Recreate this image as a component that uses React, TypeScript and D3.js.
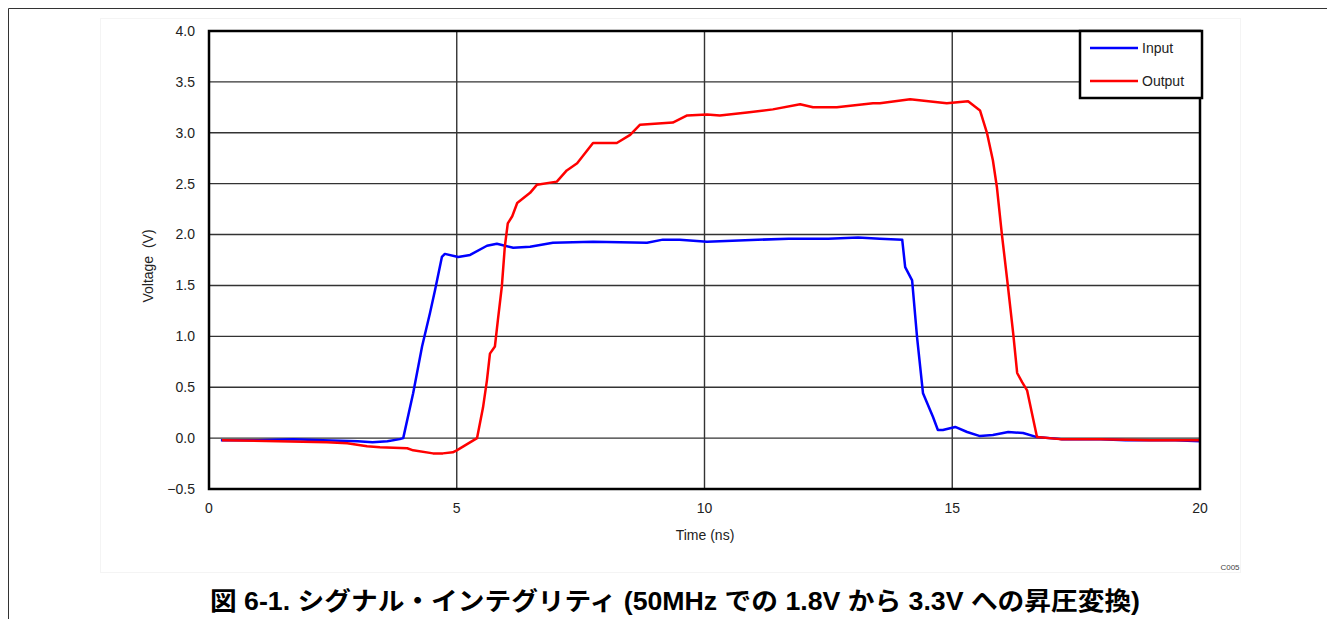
import React from "react";
import * as d3 from "d3";

const xTicks = [0, 5, 10, 15, 20];
const yTicks = [-0.5, 0, 0.5, 1, 1.5, 2, 2.5, 3, 3.5, 4];

const inputT = [0.24, 1.0, 1.7, 2.3, 3.0, 3.3, 3.6, 3.85, 3.92, 4.12, 4.3, 4.46, 4.56, 4.7, 4.76, 5.03, 5.27, 5.61, 5.81, 6.14, 6.48, 6.94, 7.75, 8.84, 9.16, 9.5, 10.05, 11.7, 12.5, 13.1, 13.54, 13.99, 14.05, 14.19, 14.29, 14.41, 14.61, 14.71, 14.81, 15.06, 15.3, 15.56, 15.82, 16.13, 16.43, 16.71, 17.2, 18.0, 18.5, 19.5, 20.0];
const inputV = [-0.02, -0.02, -0.01, -0.02, -0.03, -0.04, -0.03, -0.01, 0.0, 0.44, 0.9, 1.23, 1.45, 1.78, 1.81, 1.78, 1.8, 1.89, 1.91, 1.87, 1.88, 1.92, 1.93, 1.92, 1.95, 1.95, 1.93, 1.96, 1.96, 1.97, 1.96, 1.95, 1.68, 1.55, 0.99, 0.44, 0.21, 0.08, 0.08, 0.11, 0.06, 0.02, 0.03, 0.06, 0.05, 0.01, -0.01, -0.01, -0.02, -0.02, -0.03];

const outputT = [0.26, 2.38, 2.79, 3.19, 3.45, 4.0, 4.12, 4.52, 4.72, 4.92, 5.0, 5.41, 5.53, 5.61, 5.67, 5.77, 5.83, 5.91, 5.97, 6.03, 6.12, 6.22, 6.48, 6.62, 7.02, 7.22, 7.43, 7.75, 8.23, 8.5, 8.7, 9.36, 9.65, 10.05, 10.31, 10.86, 11.38, 11.93, 12.19, 12.67, 13.4, 13.54, 14.15, 14.89, 15.32, 15.56, 15.7, 15.82, 15.9, 16.0, 16.11, 16.23, 16.31, 16.41, 16.51, 16.71, 17.17, 18.0, 19.0, 20.0];
const outputV = [-0.02, -0.04, -0.05, -0.08, -0.09, -0.1, -0.12, -0.15, -0.15, -0.14, -0.12, 0.0, 0.3, 0.57, 0.83, 0.9, 1.16, 1.49, 1.88, 2.11, 2.18, 2.31, 2.41, 2.49, 2.52, 2.63, 2.7, 2.9, 2.9, 2.98, 3.08, 3.1, 3.17, 3.18, 3.17, 3.2, 3.23, 3.28, 3.25, 3.25, 3.29, 3.29, 3.33, 3.29, 3.31, 3.22, 3.0, 2.73, 2.47, 2.01, 1.55, 1.03, 0.64, 0.55, 0.47, 0.01, -0.01, -0.01, -0.02, -0.02];

const seriesNames = ["Input", "Output"];
const seriesColors = ["#0000ff", "#ff0000"];

const W = 1327;
const H = 619;
const L = 209, R = 1200, T = 31, B = 489;

export default function App() {
  const x = d3.scaleLinear().domain([0, 20]).range([L, R]);
  const y = d3.scaleLinear().domain([-0.5, 4]).range([B, T]);
  const line = d3
    .line<[number, number]>()
    .x((d) => x(d[0]))
    .y((d) => y(d[1]));
  const inputPts = inputT.map((t, i) => [t, inputV[i]] as [number, number]);
  const outputPts = outputT.map((t, i) => [t, outputV[i]] as [number, number]);
  const font = "'Liberation Sans', Arial, sans-serif";
  const fmt = (v: number) => (v < 0 ? "\u2212" + Math.abs(v).toFixed(1) : v.toFixed(1));

  return (
    <svg
      width={W}
      height={H}
      style={{ position: "absolute", left: 0, top: 0, background: "#fff" }}
      fontFamily={font}
    >
      {/* page frame */}
      <line x1={8.5} y1={8.5} x2={W} y2={8.5} stroke="#333" strokeWidth={1} />
      <line x1={8.5} y1={8.5} x2={8.5} y2={H} stroke="#333" strokeWidth={1} />
      <rect x={100.5} y={18.5} width={1140} height={554} fill="none" stroke="#f4f4f4" strokeWidth={1} />

      {/* grid */}
      {yTicks.map((v) => (
        <line key={"gy" + v} x1={L} x2={R} y1={y(v)} y2={y(v)} stroke="#333" strokeWidth={1.4} />
      ))}
      {xTicks.map((v) => (
        <line key={"gx" + v} x1={x(v)} x2={x(v)} y1={T} y2={B} stroke="#333" strokeWidth={1.4} />
      ))}

      {/* series */}
      <path d={line(inputPts) || ""} fill="none" stroke={seriesColors[0]} strokeWidth={2.5} strokeLinejoin="round" />
      <path d={line(outputPts) || ""} fill="none" stroke={seriesColors[1]} strokeWidth={2.5} strokeLinejoin="round" />

      {/* plot frame */}
      <rect x={L} y={T} width={R - L} height={B - T} fill="none" stroke="#000" strokeWidth={2.5} />

      {/* y tick labels */}
      {yTicks.map((v) => (
        <text key={"ly" + v} x={195} y={y(v)} dy="0.35em" textAnchor="end" fontSize={14} fill="#222">
          {fmt(v)}
        </text>
      ))}
      {/* x tick labels */}
      {xTicks.map((v) => (
        <text key={"lx" + v} x={x(v)} y={508} dy="0.35em" textAnchor="middle" fontSize={14} fill="#222">
          {v}
        </text>
      ))}

      <text x={705} y={535} dy="0.35em" textAnchor="middle" fontSize={14} fill="#222">
        Time (ns)
      </text>
      <text
        transform={`translate(148,${(T + B) / 2 + 6}) rotate(-90)`}
        dy="0.35em"
        textAnchor="middle"
        fontSize={14}
        fill="#222"
        style={{ whiteSpace: "pre" }}
      >
        {"Voltage  (V)"}
      </text>

      {/* legend */}
      <rect x={1080} y={31} width={122} height={67} fill="#fff" stroke="#000" strokeWidth={2.5} />
      {seriesNames.map((n, i) => (
        <g key={n}>
          <line x1={1090} x2={1138} y1={48 + i * 33} y2={48 + i * 33} stroke={seriesColors[i]} strokeWidth={2.5} />
          <text x={1142} y={48 + i * 33} dy="0.35em" fontSize={14} fill="#222">
            {n}
          </text>
        </g>
      ))}

      <text x={1230} y={567} dy="0.35em" textAnchor="middle" fontSize={8} fill="#444">
        C005
      </text>

      {/* caption */}
      <text
        x={210}
        y={601}
        dy="0.35em"
        fontSize={25}
        fontWeight="bold"
        fill="#000"
        textLength={930}
        lengthAdjust="spacingAndGlyphs"
        fontFamily="'Liberation Sans', 'Noto Sans CJK JP', sans-serif"
      >
        図 6-1. シグナル・インテグリティ (50MHz での 1.8V から 3.3V への昇圧変換)
      </text>
    </svg>
  );
}
